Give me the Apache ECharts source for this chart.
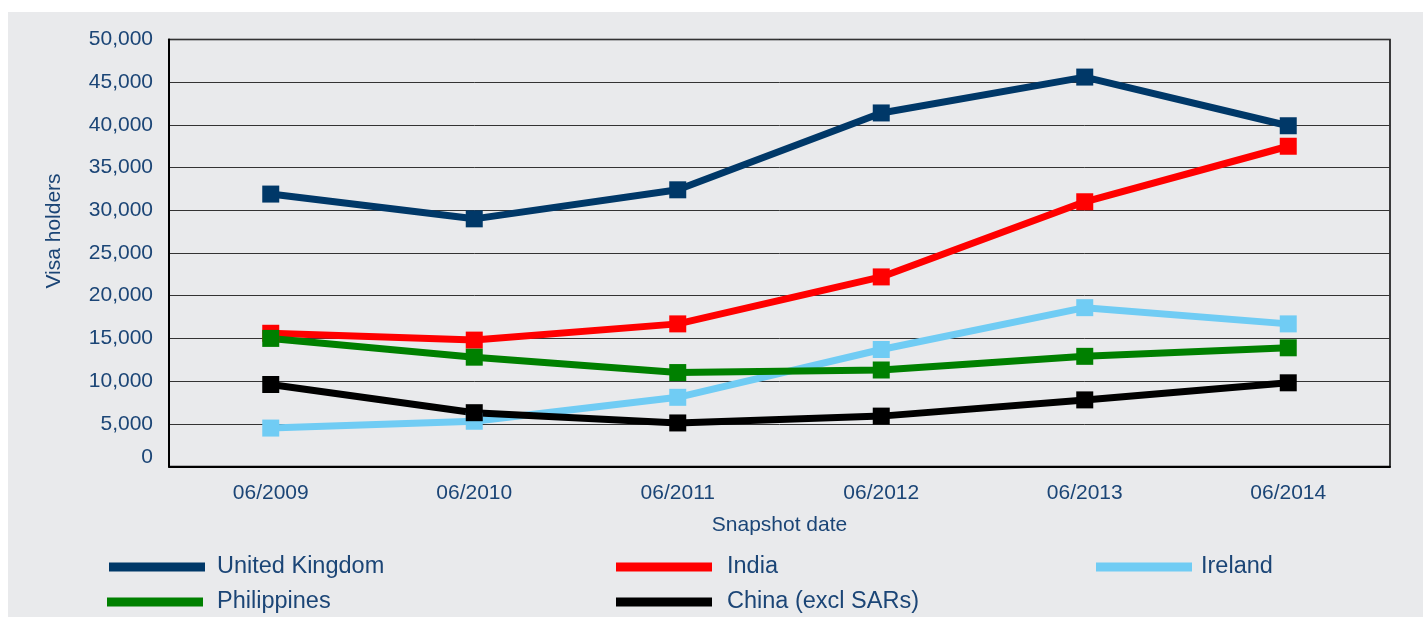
<!DOCTYPE html>
<html>
<head>
<meta charset="utf-8">
<script src="https://cdn.jsdelivr.net/npm/echarts@6/dist/echarts.min.js"></script>
<style>
html,body{margin:0;padding:0;background:#ffffff;width:1423px;height:617px;overflow:hidden;}
#chart{position:absolute;left:8px;top:12px;width:1415px;height:605px;}
</style>
</head>
<body>
<div id="chart"></div>
<script>
const categories = ['06/2009','06/2010','06/2011','06/2012','06/2013','06/2014'];
const unitedKingdom = [31900, 29000, 32400, 41400, 45600, 39900];
const india = [15600, 14800, 16700, 22200, 31000, 37500];
const ireland = [4500, 5300, 8100, 13700, 18600, 16700];
const philippines = [15000, 12800, 11000, 11300, 12900, 13900];
const china = [9600, 6300, 5100, 5900, 7800, 9800];

const textColor = '#1b4576';
const font = 'Liberation Sans, Arial, sans-serif';

const seriesDefs = [
  {name:'United Kingdom', data:unitedKingdom, color:'#003868'},
  {name:'India', data:india, color:'#ff0000'},
  {name:'Ireland', data:ireland, color:'#70ccf4'},
  {name:'Philippines', data:philippines, color:'#008000'},
  {name:'China (excl SARs)', data:china, color:'#000000'}
];

const legendPos = [
  {name:'United Kingdom', left:101, top:543, gap:7},
  {name:'India', left:608, top:543, gap:10},
  {name:'Ireland', left:1088, top:543, gap:4},
  {name:'Philippines', left:99, top:578, gap:9},
  {name:'China (excl SARs)', left:608, top:578, gap:10}
];

const chart = echarts.init(document.getElementById('chart'));
chart.setOption({
  backgroundColor:'#e9eaec',
  animation:false,
  textStyle:{fontFamily:font},
  grid:{left:161, top:27.5, width:1221, height:427, show:true, borderColor:'#000', borderWidth:1.5, backgroundColor:'transparent'},
  legend: legendPos.map(l => ({
    data:[l.name], left:l.left, top:l.top, padding:0,
    icon:'rect', itemWidth:96, itemHeight:9,
    textStyle:{color:textColor, fontSize:23.5, fontFamily:font, padding:[0,0,0,l.gap], lineHeight:24}
  })),
  xAxis:{
    type:'category', data:categories, boundaryGap:true,
    axisLine:{lineStyle:{color:'#000', width:2}},
    axisTick:{show:false},
    axisLabel:{color:textColor, fontSize:21, margin:16, fontFamily:font},
    name:'Snapshot date', nameLocation:'middle', nameGap:48,
    nameTextStyle:{color:textColor, fontSize:21, fontFamily:font}
  },
  yAxis:{
    type:'value', min:0, max:50000, interval:5000,
    axisLine:{show:true, lineStyle:{color:'#000', width:2}},
    axisTick:{show:false},
    axisLabel:{color:textColor, fontSize:21, margin:16, fontFamily:font,
      formatter: v => v === 0 ? '{z|0}' : v.toLocaleString('en-US'),
      rich:{z:{color:textColor, fontSize:21, fontFamily:font, padding:[0,0,18,0]}}},
    splitLine:{lineStyle:{color:'#333', width:1}},
    name:'Visa holders', nameLocation:'middle', nameGap:104, nameRotate:90,
    nameTextStyle:{color:textColor, fontSize:21, fontFamily:font, padding:[0,0,0,44]}
  },
  series: seriesDefs.map(s => ({
    name:s.name, type:'line', data:s.data,
    symbol:'rect', symbolSize:17, showSymbol:true,
    lineStyle:{color:s.color, width:7},
    itemStyle:{color:s.color},
    emphasis:{disabled:true}
  }))
});
</script>
</body>
</html>
